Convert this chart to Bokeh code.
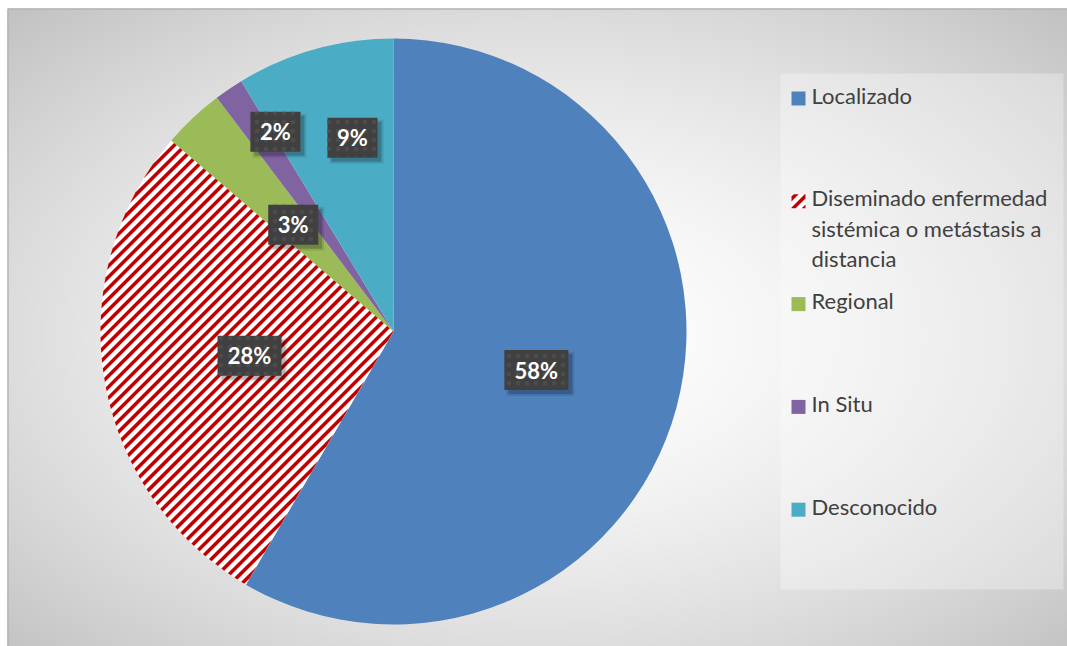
import numpy as np
from bokeh.plotting import figure
from bokeh.models import Range1d, ColumnDataSource
from bokeh.core.properties import value
from bokeh.embed import file_html
from bokeh.resources import INLINE

# ---------------- data ----------------
categories = ["Localizado",
              "Diseminado enfermedad\nsistémica o metástasis a\ndistancia",
              "Regional", "In Situ", "Desconocido"]
shares = [58.4, 27.9, 3.4, 1.6, 8.7]
colors = ["#4F81BD", "#FFFFFF", "#9BBB59", "#8064A2", "#4BACC6"]
striped = [False, True, False, False, False]

# ---------------- layout ----------------
W, H = 1067, 646
FX0, FY1 = 7, 638          # chart frame left / top (data coords)
CX, CY, R = 393, 315, 293
label_r = [148, 146, 146.5, 232, 198]
label_adj_deg = [0, 0, 0, 3.6, 3.7]
FONT = "Lato"
STRIPE_COLOR = "#C00000"
STRIPE_PERIOD, STRIPE_W = 11.0, 5.0   # horizontal period / red width (px)


def clip_half(poly, a, b, c):
    """keep part of convex polygon where a*x + b*y <= c"""
    out = []
    n = len(poly)
    for i in range(n):
        P, Q = poly[i], poly[(i + 1) % n]
        fp = a * P[0] + b * P[1] - c
        fq = a * Q[0] + b * Q[1] - c
        if fp <= 0:
            out.append(P)
        if fp * fq < 0:
            t = fp / (fp - fq)
            out.append((P[0] + t * (Q[0] - P[0]), P[1] + t * (Q[1] - P[1])))
    return out


def stripes(poly):
    """red '/' bands of a convex polygon"""
    s = [x - y for x, y in poly]
    k0 = int(np.floor(min(s) / STRIPE_PERIOD)) - 1
    k1 = int(np.ceil(max(s) / STRIPE_PERIOD)) + 1
    xs_, ys_ = [], []
    for k in range(k0, k1 + 1):
        c0 = k * STRIPE_PERIOD
        q = clip_half(poly, -1, 1, -c0)               # x - y >= c0
        q = clip_half(q, 1, -1, c0 + STRIPE_W)        # x - y <= c0 + w
        if len(q) >= 3:
            xs_.append([pt[0] for pt in q])
            ys_.append([pt[1] for pt in q])
    return xs_, ys_


p = figure(width=W, height=H, x_range=Range1d(0, W), y_range=Range1d(0, H),
           output_backend="svg", toolbar_location=None, min_border=0)
p.axis.visible = False
p.grid.visible = False
p.outline_line_color = None
p.background_fill_color = "white"

# radial gradient background
gw, gh = W - FX0, FY1
nx, ny = gw // 2, gh // 2
xs = np.linspace(FX0, W, nx)
ys = np.linspace(0, FY1, ny)
X, Y = np.meshgrid(xs, ys)
gcx, gcy = 538, 310
d = np.sqrt(((X - gcx) / (gw / 2)) ** 2 + ((Y - gcy) / (gh / 2)) ** 2) / np.sqrt(2)
g = (255 - 60 * np.clip(d, 0, 1) ** 1.6).astype(np.uint8)
img = np.empty((ny, nx), dtype=np.uint32)
view = img.view(dtype=np.uint8).reshape((ny, nx, 4))
view[:, :, 0] = g
view[:, :, 1] = g
view[:, :, 2] = g
view[:, :, 3] = 255
p.image_rgba(image=[img], x=FX0, y=0, dw=gw, dh=gh)
p.line(x=[FX0 + 0.5, FX0 + 0.5, W], y=[0, FY1 - 0.5, FY1 - 0.5],
       line_color="#b5b5b5", line_width=1.5)

# pie
total = sum(shares)
cum = np.concatenate([[0], np.cumsum(shares)]) / total
start = [np.pi / 2 - 2 * np.pi * cum[i] for i in range(len(shares))]
end = [np.pi / 2 - 2 * np.pi * cum[i + 1] for i in range(len(shares))]
src = ColumnDataSource(dict(start=start, end=end, color=colors))
p.wedge(x=CX, y=CY, radius=R, start_angle="start", end_angle="end",
        direction="clock", fill_color="color", line_color=None, source=src)

# stripes of the patterned slice(s)
sx_all, sy_all = [], []
for i, st in enumerate(striped):
    if not st:
        continue
    angs = np.linspace(start[i], end[i], 240)
    poly = [(CX, CY)] + [(CX + R * np.cos(a), CY + R * np.sin(a)) for a in angs]
    a_, b_ = stripes(poly)
    sx_all += a_
    sy_all += b_
p.patches(xs=sx_all, ys=sy_all, fill_color=STRIPE_COLOR, line_color=None)

# data labels
mids = [(cum[i] + cum[i + 1]) / 2 for i in range(len(shares))]
lx, ly, ltxt, lw = [], [], [], []
for i, m in enumerate(mids):
    ang = 2 * np.pi * m + np.deg2rad(label_adj_deg[i])
    lx.append(CX + label_r[i] * np.sin(ang))
    ly.append(CY + label_r[i] * np.cos(ang))
    t = f"{shares[i] / total * 100:.0f}%"
    ltxt.append(t)
    lw.append(22 + 14 * len(t))
lsrc = ColumnDataSource(dict(x=lx, y=ly, t=ltxt, w=lw,
                             sx=[v + 4 for v in lx], sy=[v - 4 for v in ly],
                             sw=[v + 4 for v in lw]))
p.rect(x="sx", y="sy", width="sw", height=44, fill_color="black", fill_alpha=0.10,
       line_color=None, source=lsrc)
p.rect(x="sx", y="sy", width="w", height=40, fill_color="black", fill_alpha=0.20,
       line_color=None, source=lsrc)
p.rect(x="x", y="y", width="w", height=40, fill_color="#404040",
       hatch_pattern=".", hatch_color="#4c4c4c", hatch_scale=9, hatch_weight=1.5,
       line_color=None, source=lsrc)
p.text(x="x", y="y", text="t", source=lsrc, text_font=value(FONT),
       text_font_style="bold", text_font_size="22px", text_color="white",
       text_align="center", text_baseline="middle")

# legend
p.quad(left=780, right=1063, bottom=57, top=573, fill_color="white",
       fill_alpha=0.3, line_color=None)
leg_y0, leg_step, line_sp = 646 - 97, 102.8, 30.5
tx, ty, tt = [], [], []
mx, my = [], []
for i, lab in enumerate(categories):
    yc = leg_y0 - i * leg_step
    mx.append(798)
    my.append(yc - 1)
    for k, line in enumerate(lab.split("\n")):
        tx.append(811)
        ty.append(yc + 2.5 - k * line_sp)
        tt.append(line)
msrc = ColumnDataSource(dict(x=mx, y=my, color=colors))
p.rect(x="x", y="y", width=14, height=14, fill_color="color",
       line_color=None, source=msrc)
mk_x, mk_y = [], []
for i, st in enumerate(striped):
    if not st:
        continue
    sq = [(mx[i] - 7, my[i] - 7), (mx[i] + 7, my[i] - 7),
          (mx[i] + 7, my[i] + 7), (mx[i] - 7, my[i] + 7)]
    a_, b_ = stripes(sq)
    mk_x += a_
    mk_y += b_
p.patches(xs=mk_x, ys=mk_y, fill_color=STRIPE_COLOR, line_color=None)
tsrc = ColumnDataSource(dict(x=tx, y=ty, t=tt))
p.text(x="x", y="y", text="t", source=tsrc, text_font=value(FONT),
       text_font_size="22px", text_color="#404040", text_align="left",
       text_baseline="middle")

open("out.html", "w").write(file_html(p, INLINE))
